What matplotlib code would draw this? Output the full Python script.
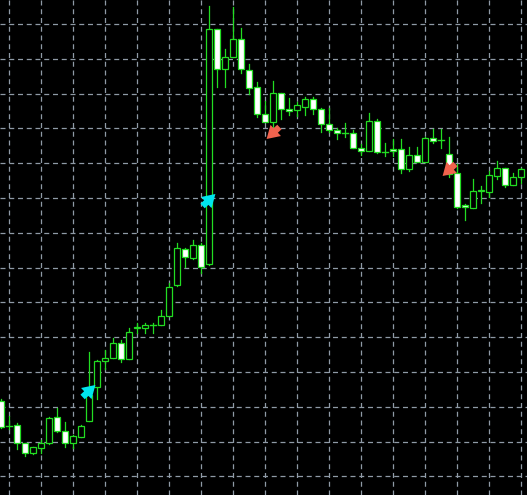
import matplotlib
matplotlib.use("Agg")
import matplotlib.pyplot as plt
import numpy as np

# readings (screen levels, converted to price below): open, high, low, close
opens  = [401,426,425,443,453,448,443,417,431,443,437,421,387,361,358,343,359,328,328,325,325,316,285,249,258,245,264,29,69,57,39,70,87,114,122,93,109,110,107,99,109,124,130,133,133,148,151,121,152,149,149,169,155,162,138,140,154,173,205,208,191,192,176,168,185,177]
highs  = [399,416,423,443,447,440,417,408,422,435,425,352,360,350,338,340,328,323,323,323,310,283,243,248,240,243,6,29,49,7,28,64,82,101,81,93,98,102,97,97,108,108,128,123,130,144,113,119,143,139,139,147,147,137,129,129,137,164,204,179,186,171,161,168,173,168]
lows   = [428,429,449,456,454,453,444,432,447,448,437,421,399,369,358,362,359,333,333,333,325,316,286,267,259,273,265,87,87,57,73,94,117,122,133,119,115,116,115,114,132,132,139,137,148,155,151,153,156,156,173,171,162,162,143,148,177,208,220,208,203,197,179,187,185,183]
closes = [427,426,443,453,447,443,418,431,443,436,426,395,361,358,343,359,332,327,325,325,316,287,248,257,245,267,29,69,57,39,69,88,114,122,93,109,111,105,99,109,124,130,133,133,148,151,121,152,152,151,169,155,162,138,141,140,174,207,207,191,190,175,168,185,177,169]
buy_signals  = [11, 26]
sell_signals = [34, 56]
buy_levels  = [391, 200]
sell_levels = [133, 170]

base = 495
o = base - np.array(opens); h = base - np.array(highs)
l = base - np.array(lows); c = base - np.array(closes)
n = len(o)
idx = np.arange(n)

fig = plt.figure(figsize=(5.27, 4.95), dpi=100, facecolor="black")
ax = fig.add_axes([0, 0, 1, 1], facecolor="black")
green = "#22dd22"
for i in idx:
    ax.plot([i, i], [l[i], h[i]], color=green, lw=0.9, zorder=2)
    lo, hi = min(o[i], c[i]), max(o[i], c[i])
    fc = "black" if c[i] > o[i] else "white"
    if hi - lo < 0.8:
        ax.plot([i - 0.38, i + 0.38], [o[i], o[i]], color=green, lw=1.0, zorder=3)
    else:
        ax.add_patch(plt.Rectangle((i - 0.38, lo), 0.76, hi - lo, facecolor=fc,
                                   edgecolor=green, lw=0.9, zorder=3))

style = "simple,head_width=1.1,head_length=0.9,tail_width=0.45"
for i, y in zip(buy_signals, buy_levels):
    yy = base - y
    ax.annotate("", xy=(i + 0.8, yy + 6), xytext=(i - 0.8, yy - 6),
                arrowprops=dict(arrowstyle=style, color="#00e5ee", lw=0,
                                shrinkA=0, shrinkB=0), zorder=5)
for i, y in zip(sell_signals, sell_levels):
    yy = base - y
    ax.annotate("", xy=(i - 0.8, yy - 6), xytext=(i + 0.8, yy + 6),
                arrowprops=dict(arrowstyle=style, color="#f0624d", lw=0,
                                shrinkA=0, shrinkB=0), zorder=5)

ax.set_xlim(-0.125, 65.75)
ax.set_ylim(0, base)
ax.set_xticks(np.arange(1, n, 4))
ax.set_yticks(base - (24 + 34.8 * np.arange(14)))
ax.grid(True, color="#8f9aa6", ls=(0, (4, 3)), lw=0.9)
ax.tick_params(length=0, labelbottom=False, labelleft=False)
for s in ax.spines.values():
    s.set_visible(False)
fig.savefig("out.png", dpi=100, facecolor="black")
